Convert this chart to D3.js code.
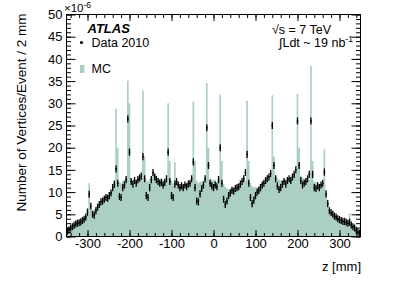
<!DOCTYPE html>
<html><head><meta charset="utf-8">
<script src="https://cdn.jsdelivr.net/npm/d3@7"></script>
<style>
html,body{margin:0;padding:0;background:#fff;}
svg{display:block;font-family:"Liberation Sans",Arial,Helvetica,sans-serif;}
</style></head>
<body><svg id="c" width="415" height="281"></svg>
<script>
// ---- data (z bins of 4 mm from -350 to 350, values in units of 1e-6) ----
const zRange = [-350, 350];
const binWidth = 4;
const mcValues = [
1.6,1.9,2.2,2.5,2.9,3.3,3.4,3.6,3.7,4.0,4.3,4.6,5.0,12.0,6.0,5.8,6.2,6.6,7.0,7.4,
7.6,8.2,8.6,9.0,9.4,10.0,10.4,11.0,11.8,28.8,20.0,12.3,12.0,12.6,12.8,13.0,35.1,30.0,13.2,12.6,
13.0,12.8,13.4,13.0,13.6,32.9,18.0,12.8,12.4,13.0,13.4,14.0,14.2,13.8,13.2,13.0,12.6,12.8,12.4,12.6,
30.0,17.0,12.6,12.0,16.7,12.4,12.2,11.8,12.0,11.6,12.0,11.8,12.2,12.0,12.4,30.4,17.0,12.6,12.0,12.4,
12.2,12.6,13.0,34.5,20.0,13.0,12.8,12.6,12.8,12.4,12.6,32.0,17.0,11.8,11.2,10.8,10.6,10.8,11.0,11.2,
11.0,11.4,11.6,11.8,12.0,12.2,12.6,30.6,17.0,12.0,11.4,11.0,11.2,11.0,11.4,11.8,12.0,12.4,12.6,12.8,
13.0,13.4,31.8,18.0,13.4,13.0,12.8,12.6,12.4,12.8,13.0,12.8,13.2,13.4,13.6,13.8,14.0,32.1,20.0,13.6,
13.2,13.0,12.8,12.6,12.8,38.4,17.0,12.4,12.2,12.0,11.8,11.6,11.4,19.6,9.5,7.6,6.2,5.6,5.2,4.9,
4.6,4.3,4.0,3.8,3.6,3.6,3.4,3.4,5.2,3.0,2.6,2.2,1.8,1.4,1.0
];
const dataValues = [
1.2,1.5,1.9,2.2,2.5,2.8,3.0,3.1,3.3,3.6,3.9,4.4,5.5,9.5,6.8,5.0,4.8,5.8,6.6,7.2,
7.8,8.0,8.4,8.8,8.6,9.2,9.8,11.0,11.8,15.2,12.0,9.0,8.8,11.0,11.6,12.8,26.5,19.0,12.4,11.8,
12.6,12.0,12.8,13.2,13.6,18.0,13.0,9.2,8.8,11.0,12.8,14.4,13.4,12.8,12.4,12.0,12.2,11.6,12.2,13.0,
19.0,12.4,9.2,8.8,11.8,12.4,11.6,11.0,11.4,11.0,11.6,11.2,11.8,12.0,13.0,16.8,11.0,8.0,7.8,9.6,
10.8,11.6,13.0,24.5,16.0,12.0,11.4,11.0,11.6,11.2,12.8,20.0,12.0,8.4,7.2,8.0,9.2,9.8,10.4,10.2,
10.8,11.0,11.2,11.8,12.4,13.0,14.4,18.5,12.0,8.8,7.4,8.2,9.2,10.0,10.4,11.0,11.6,12.0,12.6,13.0,
13.4,14.2,25.0,16.0,13.0,11.4,10.6,11.0,11.8,12.4,11.8,12.6,13.0,12.6,13.4,14.0,15.0,26.0,16.0,12.6,
11.6,12.0,12.4,13.0,14.0,26.0,14.0,11.0,10.8,11.4,11.0,11.6,12.0,14.5,9.6,7.4,5.8,5.4,5.0,4.6,
4.4,4.0,3.8,3.6,3.4,3.4,3.2,3.0,3.2,2.6,2.2,1.9,1.4,1.0,0.7
];
const dataError = 0.8;
const xMajorTicks = [-300, -200, -100, 0, 100, 200, 300];
const yMajorTicks = [0, 5, 10, 15, 20, 25, 30, 35, 40, 45, 50];
const yDomain = [0, 50];

// ---- layout ----
const L = 66.5, R = 360.5, T = 14.5, B = 236.5;
const mcColor = "#abcfc3";
const svg = d3.select("#c");
const x = d3.scaleLinear().domain(zRange).range([L, R]);
const y = d3.scaleLinear().domain(yDomain).range([B, T]);

svg.append("defs").append("clipPath").attr("id", "clip")
  .append("rect").attr("x", L).attr("y", T).attr("width", R - L).attr("height", B - T);

const bins = mcValues.map((v, i) => ({ z: zRange[0] + i * binWidth, v }));
bins.push({ z: zRange[1], v: mcValues[mcValues.length - 1] });
const area = d3.area().x(d => x(d.z)).y0(y(0)).y1(d => y(d.v)).curve(d3.curveStepAfter);
const plot = svg.append("g").attr("clip-path", "url(#clip)");
plot.append("path").datum(bins).attr("d", area).attr("fill", mcColor);

const pts = dataValues.map((v, i) => ({ z: zRange[0] + (i + 0.5) * binWidth, v }));
plot.selectAll("line.err").data(pts).enter().append("line")
  .attr("x1", d => x(d.z)).attr("x2", d => x(d.z))
  .attr("y1", d => y(d.v - dataError)).attr("y2", d => y(d.v + dataError))
  .attr("stroke", "#000").attr("stroke-width", 1.3);
plot.selectAll("circle.pt").data(pts).enter().append("circle")
  .attr("cx", d => x(d.z)).attr("cy", d => y(d.v)).attr("r", 0.9).attr("fill", "#000");

// ---- axes ----
const xMinor = d3.range(-340, 341, 20);
const yMinor = d3.range(0, 51, 1);
function styleAxis(g) {
  g.attr("font-size", null).attr("font-family", null);
  g.select(".domain").remove();
  g.selectAll("line").attr("stroke", "#000");
  g.selectAll("text").attr("fill", "#000").style("font-size", "13px");
}
svg.append("g").attr("transform", `translate(0,${B})`)
  .call(d3.axisBottom(x).tickValues(xMinor).tickSizeInner(-3.5).tickSizeOuter(0).tickFormat(""))
  .call(styleAxis);
svg.append("g").attr("transform", `translate(0,${B})`)
  .call(d3.axisBottom(x).tickValues(xMajorTicks).tickSizeInner(-6.5).tickSizeOuter(0).tickPadding(2).tickFormat(d => String(d)))
  .call(styleAxis);
svg.append("g").attr("transform", `translate(0,${T})`)
  .call(d3.axisTop(x).tickValues(xMinor).tickSizeInner(-3.5).tickSizeOuter(0).tickFormat(""))
  .call(styleAxis);
svg.append("g").attr("transform", `translate(0,${T})`)
  .call(d3.axisTop(x).tickValues(xMajorTicks).tickSizeInner(-6.5).tickSizeOuter(0).tickFormat(""))
  .call(styleAxis);
svg.append("g").attr("transform", `translate(${L},0)`)
  .call(d3.axisLeft(y).tickValues(yMinor).tickSizeInner(-4.5).tickSizeOuter(0).tickFormat(""))
  .call(styleAxis);
svg.append("g").attr("transform", `translate(${L},0)`)
  .call(d3.axisLeft(y).tickValues(yMajorTicks).tickSizeInner(-9).tickSizeOuter(0).tickPadding(4).tickFormat(d => String(d)))
  .call(styleAxis);
svg.append("g").attr("transform", `translate(${R},0)`)
  .call(d3.axisRight(y).tickValues(yMinor).tickSizeInner(-4.5).tickSizeOuter(0).tickFormat(""))
  .call(styleAxis);
svg.append("g").attr("transform", `translate(${R},0)`)
  .call(d3.axisRight(y).tickValues(yMajorTicks).tickSizeInner(-9).tickSizeOuter(0).tickFormat(""))
  .call(styleAxis);

svg.append("rect").attr("x", L).attr("y", T).attr("width", R - L).attr("height", B - T)
  .attr("fill", "none").attr("stroke", "#000").attr("stroke-width", 1);

// exponent
const ex = svg.append("text").attr("x", 64).attr("y", 12).style("font-size", "11.5px");
ex.append("tspan").text("×10");
ex.append("tspan").attr("dy", -4).style("font-size", "8.5px").text("-6");

// titles
svg.append("text").attr("transform", `translate(26,${T - 1}) rotate(-90)`)
  .attr("text-anchor", "end").style("font-size", "13.5px")
  .text("Number of Vertices/Event / 2 mm");
svg.append("text").attr("x", R + 0.5).attr("y", 271).attr("text-anchor", "end")
  .style("font-size", "13px").text("z [mm]");

// legend
svg.append("text").attr("x", 87.5).attr("y", 32.5).style("font-size", "13px")
  .style("font-weight", "bold").style("font-style", "italic").text("ATLAS");
svg.append("circle").attr("cx", 81.5).attr("cy", 42.5).attr("r", 1.6).attr("fill", "#000");
svg.append("text").attr("x", 91.5).attr("y", 46.5).style("font-size", "12.5px").text("Data 2010");
svg.append("rect").attr("x", 80).attr("y", 65).attr("width", 4.5).attr("height", 8).attr("fill", mcColor);
svg.append("text").attr("x", 91.5).attr("y", 73).style("font-size", "12.5px").text("MC");

svg.append("text").attr("x", 272).attr("y", 34).style("font-size", "12.5px").text("√s = 7 TeV");
const lum = svg.append("text").attr("x", 279).attr("y", 47).style("font-size", "12.5px");
lum.append("tspan").text("∫Ldt ~ 19 nb");
lum.append("tspan").attr("dy", -5).style("font-size", "8.5px").text("-1");
</script>
</body></html>
